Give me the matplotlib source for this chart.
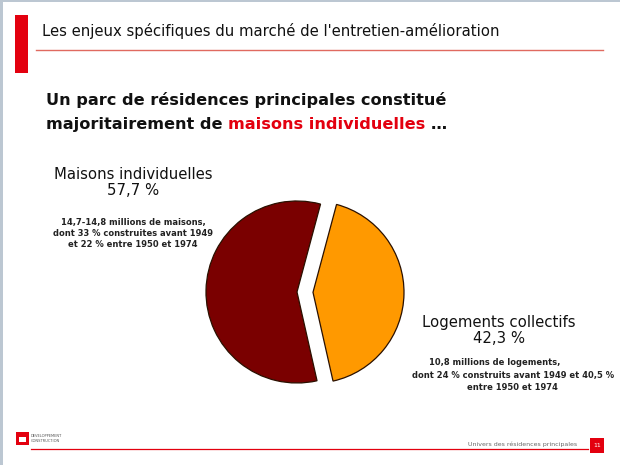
import matplotlib
matplotlib.use("Agg")
import matplotlib.pyplot as plt
from matplotlib.patches import Rectangle

# data
segments = ["Maisons individuelles", "Logements collectifs"]
shares = [57.7, 42.3]
share_labels = ["57,7 %", "42,3 %"]
details_maisons = ["14,7-14,8 millions de maisons,",
                   "dont 33 % construites avant 1949",
                   "et 22 % entre 1950 et 1974"]
details_collectifs = ["10,8 millions de logements,",
                      "dont 24 % construits avant 1949 et 40,5 %",
                      "entre 1950 et 1974"]

slide_title = "Les enjeux spécifiques du marché de l'entretien-amélioration"
headline_1 = "Un parc de résidences principales constitué"
headline_2 = ["majoritairement de", "maisons individuelles", "…"]
footer_text = "Univers des résidences principales"
page_number = "11"

colors = ["#7a0000", "#ff9900"]
red = "#e3000f"
font = "DejaVu Sans"

fig = plt.figure(figsize=(6.2, 4.65), dpi=100)
ax = fig.add_axes([0, 0, 1, 1])
ax.set_xlim(0, 620)
ax.set_ylim(465, 0)
ax.axis("off")
renderer = fig.canvas.get_renderer()


def fit(t, width):
    # scales the font so the text covers the given width in pixels
    w = t.get_window_extent(renderer).width
    t.set_fontsize(t.get_fontsize() * width / w)
    return t.get_fontsize()


def text_width(s, size, weight):
    t = ax.text(0, 0, s, fontsize=size, fontweight=weight, family=font)
    w = t.get_window_extent(renderer).width
    t.remove()
    return w


# slide frame
ax.add_patch(Rectangle((0, 0), 3, 465, color="#bcc7d2", lw=0))
ax.add_patch(Rectangle((0, 0), 620, 2.5, color="#bcc7d2", lw=0))

# header
ax.add_patch(Rectangle((15, 15), 13, 58, color=red, lw=0))
ax.plot([36, 603], [50, 50], color="#e06a60", lw=1.0)
t = ax.text(42, 31, slide_title, fontsize=10, family=font, va="center", color="#111111")
fit(t, 458)

# headline
t = ax.text(46, 100, headline_1, fontsize=14, fontweight="bold", family=font,
            va="center", color="#111111")
size_h = fit(t, 399)
x = 46
space = text_width("a a", size_h, "bold") - text_width("aa", size_h, "bold")
for part, c in zip(headline_2, ["#111111", red, "#111111"]):
    ax.text(x, 124, part, fontsize=size_h, fontweight="bold", family=font,
            va="center", color=c)
    x += text_width(part, size_h, "bold") + space

# pie (explode is in data units here, i.e. pixels)
wedges, _ = ax.pie(shares, colors=colors, startangle=-75, counterclock=False,
                   explode=[0, 16], radius=91, center=(297, 292), frame=True,
                   wedgeprops=dict(edgecolor="#2a1000", linewidth=0.9))
ax.set_xlim(0, 620)
ax.set_ylim(465, 0)
ax.set_aspect("auto")
ax.axis("off")

# labels
t = ax.text(133, 174, segments[0], fontsize=11, family=font, va="center",
            ha="center", color="#111111")
size_l = fit(t, 159)
ax.text(133, 190, share_labels[0], fontsize=size_l, family=font, va="center",
        ha="center", color="#111111")
t = ax.text(499, 322, segments[1], fontsize=size_l, family=font, va="center",
            ha="center", color="#111111")

t = ax.text(133, 233, details_maisons[1], fontsize=6, fontweight="bold",
            family=font, va="center", ha="center", color="#222222")
size_s = fit(t, 160)
for line, y in zip([details_maisons[0], details_maisons[2]], [222, 244]):
    ax.text(133, y, line, fontsize=size_s, fontweight="bold", family=font,
            va="center", ha="center", color="#222222")

ax.text(499, 338, share_labels[1], fontsize=size_l, family=font, va="center",
        ha="center", color="#111111")
for line, xc, y in zip(details_collectifs, [495, 513, 512], [362, 375, 387]):
    ax.text(xc, y, line, fontsize=size_s, fontweight="bold", family=font,
            va="center", ha="center", color="#222222")

# footer
ax.add_patch(Rectangle((16, 432), 13, 13, color=red, lw=0))
ax.add_patch(Rectangle((19, 437), 7, 5, color="white", lw=0))
ax.text(31, 436, "DEVELOPPEMENT", fontsize=2.6, family=font, va="center", color="#555555")
ax.text(31, 441, "CONSTRUCTION", fontsize=2.6, family=font, va="center", color="#555555")
ax.plot([31, 588], [449, 449], color=red, lw=0.9)
ax.text(577, 444, footer_text, fontsize=4.5, family=font, va="center", ha="right",
        color="#666666")
ax.add_patch(Rectangle((590, 438), 14, 15, color=red, lw=0))
ax.text(597, 445.5, page_number, fontsize=4.5, family=font, va="center", ha="center",
        color="white")

fig.savefig("out.png", dpi=100)
